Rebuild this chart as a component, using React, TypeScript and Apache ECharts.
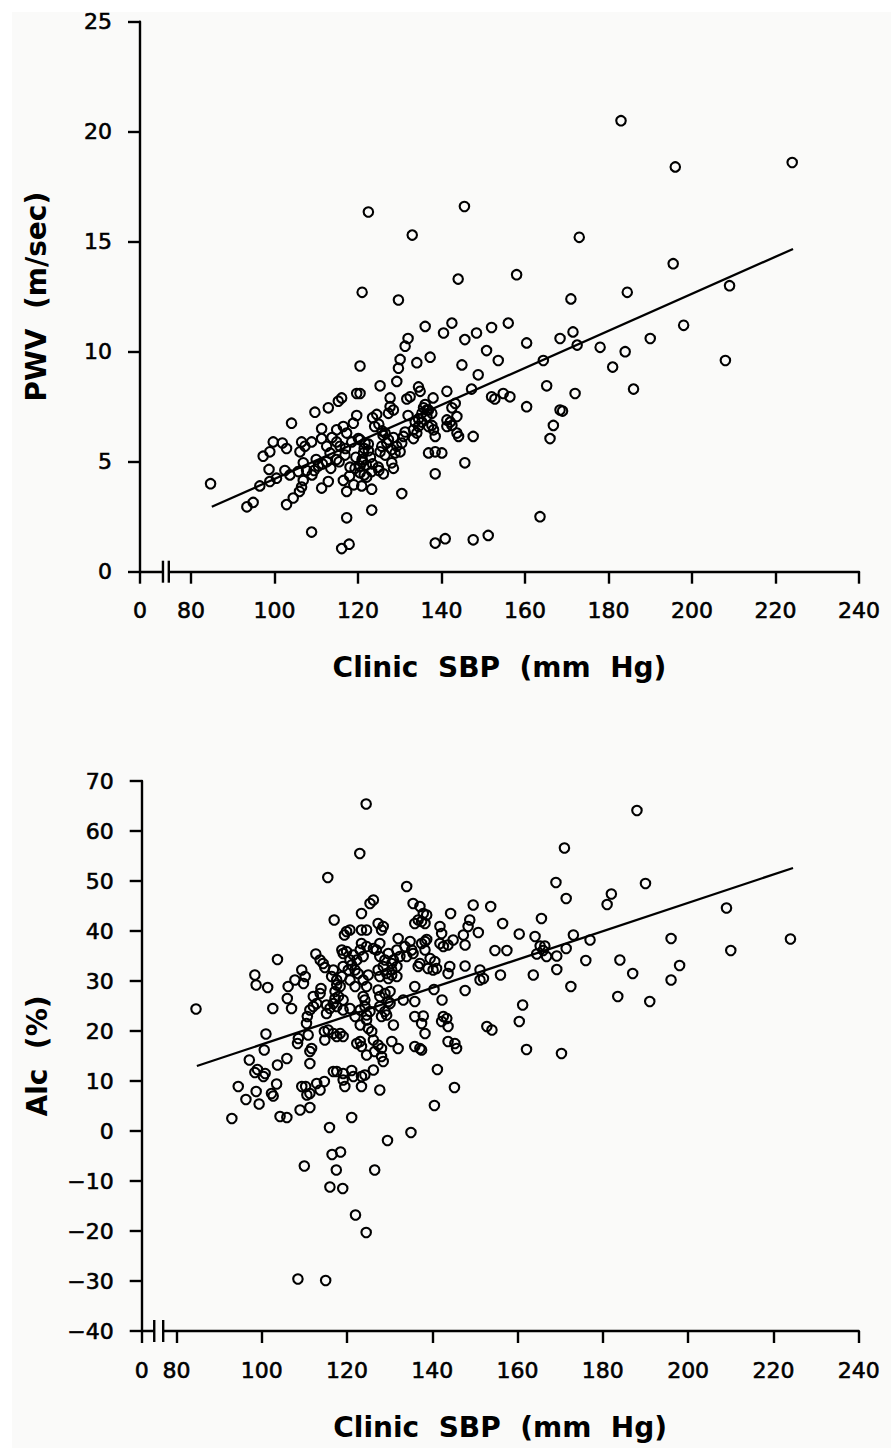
import React, { useEffect, useRef } from "react";
import * as echarts from "echarts";

// ---------- data ----------
const xTickLabels = [80, 100, 120, 140, 160, 180, 200, 220, 240];
const pwvTicks = [0, 5, 10, 15, 20, 25];
const aixTicks = [-40, -30, -20, -10, 0, 10, 20, 30, 40, 50, 60, 70];

// Clinic SBP (mm Hg), PWV (m/sec)
const pwvPoints: number[][] = [
  [84.7, 4.0], [93.4, 2.95], [94.9, 3.15], [96.5, 3.9], [98.7, 4.65], [97.3, 5.25], [98.9, 5.45], [99.7, 5.9],
  [101.9, 5.85], [102.9, 5.6], [104.1, 6.75], [98.9, 4.1], [100.5, 4.25], [102.5, 4.6], [103.7, 4.4], [102.9, 3.05],
  [104.5, 3.35], [106, 3.65], [106.5, 3.85], [106.9, 4.15], [106.1, 5.45], [106.5, 5.9], [107.3, 5.7], [108.9, 5.9],
  [109.7, 7.25], [112.9, 7.45], [115.3, 7.75], [116.1, 7.9], [119.7, 8.1], [108.9, 1.8], [117.3, 2.45], [116.1, 1.05],
  [117.9, 1.25], [111.3, 6.5], [111.3, 6.05], [111.3, 3.8], [112.9, 4.1], [117.3, 3.65], [120.9, 3.9],
  [109.5, 4.6], [110.5, 4.8], [110, 5.1], [111.5, 4.9], [112.5, 5.0], [109, 4.4], [113.5, 4.7],
  [114.9, 5.1], [116.9, 5.3], [118.1, 4.75], [119.3, 4.7], [116.5, 4.15], [114.9, 6.45], [116.5, 6.6], [117.3, 6.3],
  [114.9, 5.9], [115.7, 5.7], [118.9, 6.75], [119.7, 7.1], [120.1, 6.05], [121.7, 5.85], [121.3, 5.4], [112.5, 5.7],
  [113.3, 5.4], [106.9, 4.95], [107.7, 4.6], [105.7, 4.55], [122.1, 4.3],
  [115.5, 5.0], [117, 5.6], [118.5, 5.9], [119.5, 5.2], [120.5, 4.5], [121, 5.0], [122.5, 5.5], [113.8, 6.1],
  [118, 4.35], [119, 3.95],
  [129.7, 12.35], [136.1, 11.15], [142.5, 11.3], [140.5, 10.85], [145.6, 10.55], [148.4, 10.85], [152, 11.1], [156, 11.3],
  [160.4, 10.4], [132, 10.6], [131.3, 10.25], [130.1, 9.65], [129.7, 9.25], [134.1, 9.5], [137.3, 9.75], [129.3, 8.65],
  [125.3, 8.45], [120.5, 9.35], [120.5, 8.1], [127.7, 7.9], [131.7, 7.85], [132.5, 7.95], [134.5, 8.4], [134.9, 8.2],
  [138, 7.9], [136.1, 7.6], [136.5, 7.35], [137.7, 7.2], [141.3, 8.2], [144.9, 9.4], [148.8, 8.95], [147.2, 8.3],
  [143.3, 7.65], [142.5, 7.45], [143.7, 7.05], [142.1, 6.8], [152, 7.95], [152.8, 7.85], [154.8, 8.1], [156.4, 7.95],
  [160.4, 7.5], [164.4, 9.6], [165.2, 8.45], [166.8, 6.65], [166, 6.05], [163.6, 2.5], [168.4, 10.6], [168.4, 7.35],
  [138.5, 1.3], [140.9, 1.5], [147.6, 1.45], [151.2, 1.65], [123.3, 2.8], [130.5, 3.55], [123.3, 3.75], [138.5, 4.45],
  [145.6, 4.95], [136.9, 5.4], [138.5, 5.45], [140.1, 5.4], [144.1, 6.15], [147.6, 6.15], [143.7, 6.3], [137.7, 6.65],
  [138.1, 6.45], [136.9, 6.6], [138.5, 6.15], [135.3, 6.8], [134.5, 6.95], [141.3, 6.6], [142.5, 6.65], [141.3, 6.9],
  [133.3, 6.05], [128.5, 4.7], [128.1, 4.95], [126.1, 4.45], [123.3, 4.55], [124.9, 4.75], [129.3, 5.7], [128.9, 5.4],
  [128.1, 5.55], [130.5, 5.85], [130.1, 5.45], [131.3, 6.35], [130.9, 6.15],
  [123.5, 7.0], [124.5, 7.15], [125, 6.7], [124, 6.6], [125.8, 6.4], [126.5, 6.3], [127.3, 6.0], [126, 6.2], [128.5, 6.1],
  [127.7, 7.5], [128.5, 7.35], [127.3, 7.2],
  [120.5, 6.0], [121.5, 5.6], [122.5, 5.8], [121, 5.1], [122, 4.85], [123, 5.2], [120.5, 4.8], [121.5, 4.4], [123.5, 4.9], [125, 4.6],
  [132, 7.1], [133.7, 6.8], [134.5, 6.6], [133.3, 6.45], [134.1, 6.3], [135.3, 7.2], [136.5, 7.05], [135.7, 7.45], [136.9, 7.35],
  [125.3, 5.45], [126.5, 5.3], [125.7, 5.7], [126.9, 5.85], [150.8, 10.05], [153.6, 9.6],
  [122.5, 16.35], [121, 12.7], [133, 15.3], [144, 13.3], [145.5, 16.6], [158, 13.5],
  [169, 7.3], [171, 12.4], [171.5, 10.9], [172, 8.1], [172.5, 10.3], [173, 15.2], [178, 10.2], [181, 9.3],
  [183, 20.5], [184, 10.0], [184.5, 12.7], [186, 8.3], [190, 10.6], [195.5, 14.0], [196, 18.4], [198, 11.2],
  [208, 9.6], [209, 13.0], [224, 18.6],
];
const pwvFit: number[][] = [[85.0, 2.95], [224.2, 14.67]];

// Clinic SBP (mm Hg), AIc (%)
const aixPoints: number[][] = [
  [84.6, 24.4], [93, 2.5], [94.5, 8.9], [96.3, 6.3], [98.7, 7.9], [99.4, 5.4], [98.4, 11.7], [99, 12.3],
  [100.4, 10.9], [100.8, 11.5], [97.1, 14.2], [98.4, 31.2], [98.7, 29.2], [101.4, 28.7], [100.6, 16.2], [101, 19.4],
  [102.6, 24.5], [103.7, 34.3], [102.3, 7.5], [102.7, 7.0], [103.5, 9.4], [103.7, 13.2], [105.9, 14.5], [104.3, 2.9],
  [105.9, 2.7], [106.2, 28.9], [106, 26.5], [107, 24.5], [107.8, 30.2], [109.4, 32.2], [110.2, 30.9], [109.8, 29.5],
  [108.4, 17.5], [108.6, 18.5], [109, 4.2], [111.3, 4.7], [110.3, 8.9], [110.6, 7.2], [111.3, 7.5], [111.3, 13.5],
  [112.9, 9.5], [113.7, 8.2], [111.3, 15.9], [111.7, 16.5], [110.9, 19.2], [110.5, 21.5], [110.7, 22.9], [111.3, 24.2],
  [112.1, 24.9], [112.9, 25.5], [112.1, 26.9], [113.7, 27.5], [112.7, 35.4], [113.7, 34.2], [114.4, 33.5], [114.8, 32.7],
  [113.9, 28.5], [114.7, 19.9], [114.8, 18.2], [115.6, 20.2], [116.8, 19.5], [117.6, 18.9], [118.4, 19.5], [119.1, 18.9],
  [115.2, 25.2], [116, 24.5], [116.8, 25.5], [117.6, 24.9], [115.2, 23.5], [117.2, 27.9], [117.2, 26.5], [118, 26.9],
  [119.1, 26.2], [117.6, 29.2], [116.8, 32.2], [116.4, 30.9], [117.6, 30.2], [118.8, 30.9], [118.4, 28.9],
  [119.1, 32.9], [120.3, 32.2], [121.1, 33.2], [121.9, 32.2], [120.7, 34.2], [121.5, 35.2], [119.9, 35.9], [119.1, 35.5], [118.8, 36.2],
  [117, 42.2], [119.4, 39.2], [119.9, 39.9], [120.7, 40.2], [123.4, 43.5], [123.4, 40.2], [124.6, 40.2], [123.4, 37.5],
  [124.6, 36.9], [122.3, 34.2], [123.8, 34.9], [122.6, 31.5], [123.8, 30.2], [125, 31.2], [120.7, 30.2], [121.9, 28.9],
  [119.1, 24.2], [120.7, 24.5], [121.9, 22.9], [123.1, 24.2], [124.2, 24.9], [124.6, 23.2], [125.4, 23.9], [122.3, 17.5],
  [123.1, 17.9], [123.4, 16.9], [124.6, 15.2], [116.8, 11.9], [117.6, 11.9], [119.1, 11.5], [121.1, 12.1], [121.5, 10.9],
  [119.1, 10.2], [119.5, 8.9], [123.4, 8.9], [124.2, 11.2], [114.7, 9.9], [115.9, 0.7], [121.1, 2.7], [109.4, 8.9],
  [134, 48.9], [169, 49.7], [171.4, 46.5], [165.6, 42.5], [156.5, 41.5], [153.7, 44.9], [149.6, 45.2], [148.8, 42.2],
  [148.4, 40.9], [150.8, 39.7], [144.3, 43.5], [141.8, 40.9], [142.2, 39.5], [147.3, 39.2], [144.9, 38.2], [143.7, 37.2],
  [142.6, 36.9], [141.8, 37.5], [147.7, 37.2], [160.4, 39.4], [164.1, 38.9], [165.3, 37], [166.4, 37], [166, 36.1],
  [173.1, 39.2], [171.4, 36.5], [169.2, 35], [166.8, 34.9], [164.5, 35.4], [169.2, 32.3], [163.7, 31.2], [172.5, 28.9],
  [154.7, 36.1], [157.5, 36.1], [156, 31.2], [151.2, 32.2], [152, 30.5], [151.2, 30.2], [147.7, 33], [147.7, 28.1],
  [144.1, 32.9], [143.7, 31.5], [161.2, 25.2], [160.4, 21.9], [162.1, 16.3], [170.3, 15.5], [152.8, 20.9], [154, 20.2],
  [145.3, 17.5], [145.7, 16.5], [143.7, 17.9], [141.2, 12.3], [145.2, 8.7], [138.3, 19.5], [142.6, 22.9], [143.4, 22.5],
  [142.2, 21.9], [143.7, 20.9], [137.9, 23], [137.5, 21.5], [135.9, 16.9], [137.1, 16.5], [137.5, 16.2], [142.3, 26.2],
  [140.4, 28.3], [135.9, 28.9], [135.9, 25.9], [133.2, 26.2], [139.5, 34.5], [140.6, 33.9], [140.2, 32.2], [141, 32.5],
  [139, 32.5], [137.1, 33.5], [136.7, 32.9], [138.3, 37.9], [138.7, 38.3], [137.5, 37.5], [138.3, 36.2], [137.9, 43.5],
  [137.5, 41.9], [135.9, 41.5], [136.7, 42.2], [135.5, 45.5], [137.1, 44.9], [138.7, 43.2], [138.3, 41.5], [132, 38.5],
  [131.7, 36.2], [133.6, 36.9], [134.8, 37.9], [135.2, 36.2], [134, 34.9], [135.5, 35.5], [125.4, 45.5], [126.2, 46.2],
  [127.3, 41.5], [128.1, 40.2], [128.5, 40.9], [127.7, 37.5], [126.9, 36.2], [126.2, 36.5], [123.1, 36.2], [127.7, 34.9],
  [128.9, 34.2], [129.7, 35.5], [130.5, 33.5], [130.9, 34.2], [132.4, 34.9], [127.3, 32.2], [128.5, 32.9], [129.3, 31.5],
  [130.5, 32.2], [131.7, 32.9], [127.7, 30.9], [129.7, 30.5], [130.5, 31.2], [131.7, 30.9], [124.6, 28.9], [123.8, 26.9],
  [124.2, 26.2], [127.3, 28.2], [127.7, 26.9], [128.9, 27.5], [129.7, 25.9], [130.1, 27.9], [127.7, 24.9], [128.9, 23.9],
  [128.1, 22.9], [129.3, 23.2], [130.1, 25.5], [124.6, 22.2], [125, 20.5], [123.1, 21.2], [125.8, 19.9], [126.2, 18.2],
  [127.3, 17.2], [126.5, 15.9], [128.1, 14.9], [130.9, 21.2], [132, 16.5], [130.5, 17.9], [128.1, 16.5], [128.5, 13.9],
  [123.4, 10.9], [126.2, 12.2], [127.7, 8.2], [135.9, 22.9],
  [124.5, 65.4], [123, 55.5], [115.5, 50.7], [188, 64.1], [171, 56.6], [190, 49.5], [182, 47.4], [181, 45.3],
  [187, 31.5], [184, 34.2], [183.5, 26.9], [177, 38.2], [176, 34.1], [196, 38.5], [196, 30.2], [198, 33.1],
  [191, 25.9], [209, 44.6], [210, 36.1], [224, 38.4], [108.5, -29.6], [115, -29.9], [110, -7.0], [116, -11.2],
  [119, -11.5], [116.5, -4.7], [118.5, -4.2], [117.5, -7.8], [126.5, -7.8], [122, -16.8], [124.5, -20.3], [129.5, -1.9],
  [135, -0.3], [140.5, 5.1],
];
const aixFit: number[][] = [[84.8, 13.0], [224.6, 52.6]];

// ---------- layout / style ----------
const X0_TOP = 67.8;
const X0_BOT = 71.86;
const BG = "#fafaf9";
const FONT = "DejaVu Sans";

const tickText = {
  fontSize: 22,
  fontFamily: FONT,
  color: "#000",
  textBorderColor: "#000",
  textBorderWidth: 0.6,
};

function xAxisCfg(gridIndex: number, x0: number) {
  const vals = [x0, ...xTickLabels];
  return {
    type: "value",
    gridIndex,
    min: x0,
    max: 240,
    axisLine: { show: true, onZero: false, lineStyle: { color: "#000", width: 2.4 } },
    axisTick: { show: true, customValues: vals, length: 12, lineStyle: { color: "#000", width: 2.4 } },
    axisLabel: {
      customValues: vals,
      formatter: (v: number) => (v < 79 ? "0" : String(v)),
      margin: 28,
      ...tickText,
    },
    splitLine: { show: false },
    name: "Clinic  SBP  (mm  Hg)",
    nameLocation: "middle",
    nameGap: 82,
    nameTextStyle: { fontSize: 28, fontWeight: "bold", fontFamily: FONT, color: "#000" },
  };
}

function yAxisCfg(gridIndex: number, ticks: number[], name: string) {
  return {
    type: "value",
    gridIndex,
    min: ticks[0],
    max: ticks[ticks.length - 1],
    interval: ticks[1] - ticks[0],
    axisLine: { show: true, onZero: false, lineStyle: { color: "#000", width: 2.4 } },
    axisTick: { show: true, length: 12, lineStyle: { color: "#000", width: 2.4 } },
    axisLabel: {
      formatter: (v: number) => (v < 0 ? "\u2212" + Math.abs(v) : String(v)),
      margin: 28,
      ...tickText,
    },
    splitLine: { show: false },
    name,
    nameLocation: "middle",
    nameGap: 90,
    nameTextStyle: { fontSize: 28, fontWeight: "bold", fontFamily: FONT, color: "#000" },
  };
}

const scatterStyle = {
  type: "scatter",
  symbol: "circle",
  symbolSize: 9.5,
  itemStyle: { color: "rgba(0,0,0,0)", borderColor: "#000", borderWidth: 2.1, opacity: 1 },
  emphasis: { disabled: true },
  z: 3,
};

const fitStyle = {
  type: "line",
  symbol: "none",
  lineStyle: { color: "#000", width: 2.3 },
  emphasis: { disabled: true },
  z: 4,
};

export default function App() {
  const ref = useRef<HTMLDivElement>(null);

  useEffect(() => {
    document.body.style.margin = "0";
    const chart = echarts.init(ref.current!, null, { renderer: "svg" });
    chart.setOption({
      animation: false,
      backgroundColor: "#ffffff",
      grid: [
        { left: 140, top: 21.7, width: 719, height: 550 },
        { left: 141.7, top: 781, width: 717, height: 550 },
      ],
      xAxis: [xAxisCfg(0, X0_TOP), xAxisCfg(1, X0_BOT)],
      yAxis: [yAxisCfg(0, pwvTicks, "PWV  (m/sec)"), yAxisCfg(1, aixTicks, "Alc  (%)")],
      series: [
        { ...scatterStyle, xAxisIndex: 0, yAxisIndex: 0, data: pwvPoints },
        { ...fitStyle, xAxisIndex: 0, yAxisIndex: 0, data: pwvFit },
        { ...scatterStyle, xAxisIndex: 1, yAxisIndex: 1, data: aixPoints },
        { ...fitStyle, xAxisIndex: 1, yAxisIndex: 1, data: aixFit },
      ],
    });

    // axis-break marks "||"
    const breakMarks = (gi: number, yv: number, a: number, b: number) => {
      const p1 = chart.convertToPixel({ xAxisIndex: gi, yAxisIndex: gi }, [a, yv]) as number[];
      const p2 = chart.convertToPixel({ xAxisIndex: gi, yAxisIndex: gi }, [b, yv]) as number[];
      return [
        { type: "rect", z: 100, shape: { x: p1[0], y: p1[1] - 3, width: p2[0] - p1[0], height: 6 }, style: { fill: BG } },
        { type: "line", z: 101, shape: { x1: p1[0], y1: p1[1] - 11, x2: p1[0], y2: p1[1] + 11 }, style: { stroke: "#000", lineWidth: 2.4 } },
        { type: "line", z: 101, shape: { x1: p2[0], y1: p2[1] - 11, x2: p2[0], y2: p2[1] + 11 }, style: { stroke: "#000", lineWidth: 2.4 } },
      ];
    };
    chart.setOption({
      graphic: [
        { type: "rect", z: -100, silent: true, shape: { x: 12, y: 12, width: 900, height: 1460 }, style: { fill: BG } },
        ...breakMarks(0, 0, 73.3, 74.7),
        ...breakMarks(1, -40, 74.8, 76.9),
      ],
    });
    return () => chart.dispose();
  }, []);

  return <div ref={ref} style={{ width: 891, height: 1448 }} />;
}
